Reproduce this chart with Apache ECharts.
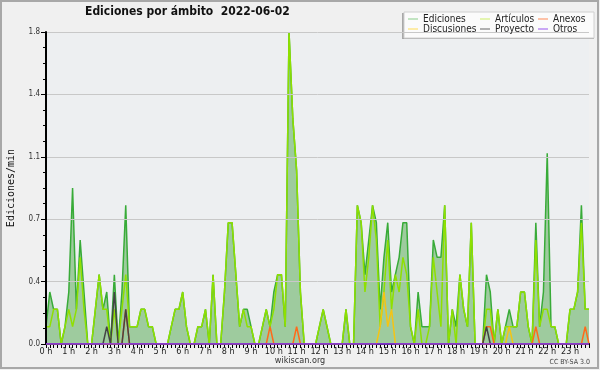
<!DOCTYPE html>
<html><head><meta charset="utf-8">
<script src="https://cdn.jsdelivr.net/npm/echarts@6/dist/echarts.min.js"></script>
<style>html,body{margin:0;padding:0;background:#f0f0f0}#c{width:600px;height:370px}</style>
</head><body><div id="c"></div>
<script>
const hourLabels = ['0 h','1 h','2 h','3 h','4 h','5 h','6 h','7 h','8 h','9 h','10 h','11 h','12 h','13 h','14 h','15 h','16 h','17 h','18 h','19 h','20 h','21 h','22 h','23 h'];
const yTickLabels = ['0.0','0.4','0.7','1.1','1.4','1.8'];
const seriesNames = ['Ediciones','Artículos','Anexos','Discusiones','Proyecto','Otros'];

const ediciones = [
0.1,0.3,0.2,0.2,0,0.1,0.3,0.9,0.2,0.6,
0.3,0,0,0.2,0.4,0.2,0.3,0,0.4,0,
0.3,0.8,0.1,0.1,0.1,0.2,0.2,0.1,0.1,0,
0,0,0,0.1,0.2,0.2,0.3,0.1,0,0,
0.1,0.1,0.2,0,0.4,0,0,0.3,0.7,0.7,
0.4,0.1,0.2,0.2,0.1,0,0,0.1,0.2,0.1,
0.3,0.4,0.4,0.1,1.8,1.3,1.0,0.3,0,0,
0,0,0.1,0.2,0.1,0,0,0,0,0.2,
0,0,0.8,0.7,0.4,0.6,0.8,0.7,0.2,0.5,
0.7,0.3,0.4,0.5,0.7,0.7,0.1,0,0.3,0.1,
0.1,0.1,0.6,0.5,0.5,0.8,0,0.2,0.1,0.4,
0.2,0.1,0.7,0,0,0,0.4,0.3,0,0.2,
0,0.1,0.2,0.1,0.1,0.3,0.3,0.1,0,0.7,
0.1,0.3,1.1,0.1,0.1,0,0,0,0.2,0.2,
0.3,0.8,0.2,0.2];
const articulos = [
0.1,0.1,0.2,0.2,0,0.1,0.2,0.1,0.2,0.5,
0.2,0,0,0.2,0.4,0.2,0.2,0,0.2,0,
0.2,0.4,0.1,0.1,0.1,0.2,0.2,0.1,0.1,0,
0,0,0,0.1,0.2,0.2,0.3,0.1,0,0,
0.1,0.1,0.2,0,0.4,0,0,0.3,0.7,0.7,
0.4,0.1,0.2,0.1,0.1,0,0,0.1,0.2,0.1,
0.2,0.4,0.4,0.1,1.8,1.3,1.0,0.3,0,0,
0,0,0.1,0.2,0.1,0,0,0,0,0.2,
0,0,0.8,0.7,0.3,0.5,0.8,0.6,0.1,0.3,
0.6,0.2,0.4,0.3,0.5,0.4,0.1,0,0.2,0,
0,0.1,0.5,0.3,0.1,0.8,0,0.2,0,0.4,
0.2,0.1,0.7,0,0,0,0.2,0.2,0,0.2,
0,0.1,0.1,0.1,0.1,0.3,0.3,0.1,0,0.6,
0.1,0.2,0.2,0.1,0.1,0,0,0,0.2,0.2,
0.3,0.7,0.2,0.2];
const anexos = [
0,0,0,0,0,0,0,0,0,0, 0,0,0,0,0,0,0,0,0,0, 0,0.2,0,0,0,0,0,0,0,0,
0,0,0,0,0,0,0,0,0,0, 0,0,0,0,0,0,0,0,0,0, 0,0,0,0,0,0,0,0,0,0.1,
0,0,0,0,0,0,0.1,0,0,0, 0,0,0,0,0,0,0,0,0,0, 0,0,0,0,0,0,0,0,0,0,
0,0,0,0,0,0,0,0,0,0, 0,0,0,0,0,0,0,0,0,0, 0,0,0,0,0,0,0.1,0.1,0,0,
0,0,0,0,0,0,0,0,0,0.1, 0,0,0,0,0,0,0,0,0,0, 0,0,0.1,0];
const discusiones = [
0,0,0,0,0,0,0,0,0,0, 0,0,0,0,0,0,0,0,0,0, 0,0,0,0,0,0,0,0,0,0,
0,0,0,0,0,0,0,0,0,0, 0,0,0,0,0,0,0,0,0,0, 0,0,0,0,0,0,0,0,0,0,
0,0,0,0,0,0,0,0,0,0, 0,0,0,0,0,0,0,0,0,0, 0,0,0,0,0,0,0,0,0.1,0.3,
0.1,0.2,0,0,0,0,0,0,0,0, 0,0,0,0,0,0,0,0,0,0, 0,0,0,0,0,0,0,0,0,0,
0,0,0.1,0,0,0,0,0,0,0, 0,0,0,0,0,0,0,0,0,0, 0,0,0,0];
const proyecto = [
0,0,0,0,0,0,0,0,0,0, 0,0,0,0,0,0,0.1,0,0.3,0, 0,0.2,0,0,0,0,0,0,0,0,
0,0,0,0,0,0,0,0,0,0, 0,0,0,0,0,0,0,0,0,0, 0,0,0,0,0,0,0,0,0,0,
0,0,0,0,0,0,0,0,0,0, 0,0,0,0,0,0,0,0,0,0, 0,0,0,0,0,0,0,0,0,0,
0,0,0,0,0,0,0,0,0,0, 0,0,0,0,0,0,0,0,0,0, 0,0,0,0,0,0,0.1,0,0,0,
0,0,0,0,0,0,0,0,0,0, 0,0,0,0,0,0,0,0,0,0, 0,0,0,0];
const otros = [
0,0,0,0,0,0,0,0,0,0, 0,0,0,0,0,0,0,0,0,0, 0,0,0,0,0,0,0,0,0,0,
0,0,0,0,0,0,0,0,0,0, 0,0,0,0,0,0,0,0,0,0, 0,0,0,0,0,0,0,0,0,0,
0,0,0,0,0,0,0,0,0,0, 0,0,0,0,0,0,0,0,0,0, 0,0,0,0,0,0,0,0,0,0,
0,0,0,0,0,0,0,0,0,0, 0,0,0,0,0,0,0,0,0,0, 0,0,0,0,0,0,0,0,0,0,
0,0,0,0,0,0,0,0,0,0, 0,0,0,0,0,0,0,0,0,0, 0,0,0,0];

const categories = [];
for (let h = 0; h < 24; h++) for (let m = 0; m < 60; m += 10)
  categories.push(String(h).padStart(2,'0') + ':' + String(m).padStart(2,'0'));

const F = '"DejaVu Sans Condensed", "DejaVu Sans", sans-serif';
const lineColors = ['#38ab38','#8fe000','#ff6a1a','#f5c414','#444444','#9933ff'];
const legendColors = ['#88cc88','#ccee66','#ff8855','#ffdd55','#666666','#9955ee'];
const seriesData = [ediciones, articulos, anexos, discusiones, proyecto, otros];

function legendCol(names, left) {
  return {
    data: names.map(n => ({name: n, itemStyle: {color: legendColors[seriesNames.indexOf(n)]}})),
    orient: 'vertical', left: left, top: 14, padding: 0, itemGap: 0,
    itemWidth: 10, itemHeight: 1, icon: 'rect', selectedMode: false, z: 10,
    textStyle: {fontFamily: F, fontSize: 10, color: '#222', lineHeight: 10}
  };
}

const chart = echarts.init(document.getElementById('c'), null, {renderer: 'canvas'});
chart.setOption({
  backgroundColor: '#f0f0f0',
  animation: false,
  title: {text: 'Ediciones por ámbito  2022-06-02', left: 85, top: 6, padding: 0,
    textStyle: {fontFamily: F, fontWeight: 'bold', fontSize: 12, color: '#111'}},
  grid: {left: 46, right: 11, top: 32, bottom: 26, outerBoundsMode: 'none', containLabel: false,
    show: true, backgroundColor: '#edeff1', borderWidth: 0},
  legend: [legendCol(['Ediciones','Discusiones'], 408), legendCol(['Artículos','Proyecto'], 480), legendCol(['Anexos','Otros'], 538)],
  graphic: [
    {type: 'rect', z: 0, shape: {x: 1, y: 1, width: 597, height: 367}, style: {fill: null, stroke: '#a8a8a8', lineWidth: 2}},
    {type: 'rect', z: 1, shape: {x: 402, y: 13, width: 192, height: 26}, style: {fill: '#a8a8a8'}},
    {type: 'rect', z: 2, shape: {x: 404, y: 12, width: 190, height: 26}, style: {fill: '#fbfbfb', stroke: '#d0d0d0', lineWidth: 1}},
    {type: 'text', z: 5, x: 300, y: 361, style: {text: 'wikiscan.org', fontFamily: F, fontSize: 9, fill: '#333', textAlign: 'center', textVerticalAlign: 'middle'}},
    {type: 'text', z: 5, x: 590, y: 362, style: {text: 'CC BY-SA 3.0', fontFamily: F, fontSize: 7, fill: '#444', textAlign: 'right', textVerticalAlign: 'middle'}}
  ],
  xAxis: {
    type: 'category', data: categories, boundaryGap: false, z: 5,
    axisLine: {lineStyle: {color: '#000', width: 2}},
    axisTick: {show: true, interval: 0, length: 4, lineStyle: {color: '#000', width: 1}},
    axisLabel: {interval: 5, margin: 3, formatter: (v, i) => hourLabels[Math.round(i / 6)],
      fontFamily: F, fontSize: 9, color: '#222'},
    splitLine: {show: false}
  },
  yAxis: {
    type: 'value', min: 0, max: 1.8, interval: 0.36, z: 5,
    name: 'Ediciones/min', nameLocation: 'middle', nameGap: 30,
    nameTextStyle: {fontFamily: '"DejaVu Sans Mono", monospace', fontSize: 10, color: '#111'},
    axisLine: {show: true, lineStyle: {color: '#000', width: 2}},
    axisTick: {show: true, length: 5, lineStyle: {color: '#000'}},
    minorTick: {show: true, splitNumber: 4, length: 3, lineStyle: {color: '#000'}},
    axisLabel: {margin: 6, fontFamily: F, fontSize: 8, color: '#333',
      formatter: v => yTickLabels[Math.round(v / 0.36)]},
    splitLine: {show: true, lineStyle: {color: '#c8c8c8', width: 1}}
  },
  series: seriesNames.map((n, k) => ({
    name: n, type: 'line', data: seriesData[k], symbol: 'none', z: 2 + k,
    lineStyle: {color: lineColors[k], width: 1.5},
    itemStyle: {color: lineColors[k]},
    areaStyle: k === 0 ? {color: '#9ecb9e', opacity: 1} : undefined
  }))
});
</script></body></html>
